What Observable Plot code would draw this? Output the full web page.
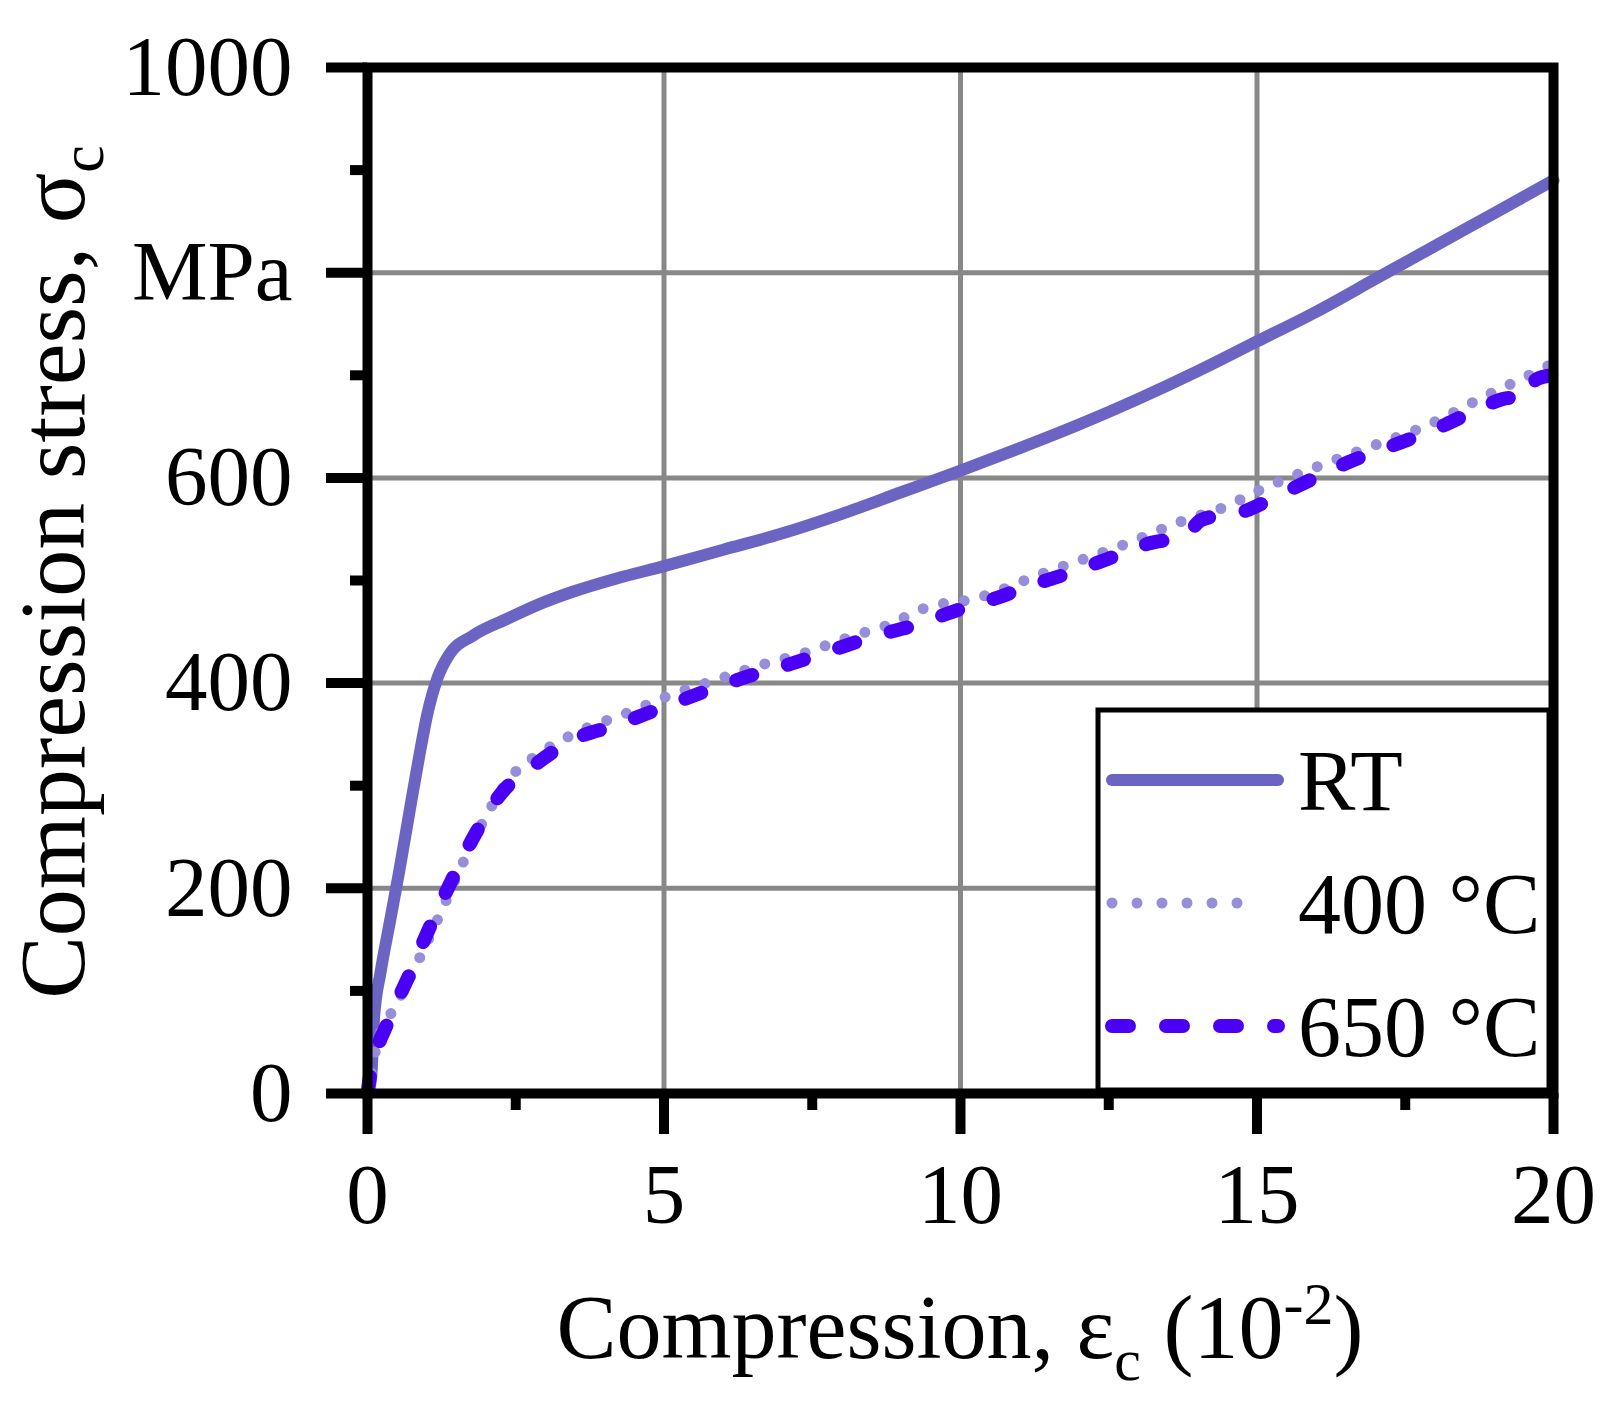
<!DOCTYPE html>
<html><head><meta charset="utf-8">
<script src="https://cdn.jsdelivr.net/npm/d3@7"></script>
<script src="https://cdn.jsdelivr.net/npm/@observablehq/plot@0.6"></script>
<style>body{margin:0;background:#fff}</style>
</head><body><div id="chart"></div>
<script>
// ---- data (compression in 10^-2, stress in MPa) ----
const seriesNames = ["RT", "400 °C", "650 °C"];
const rtX  = [0, 0.06, 0.11, 0.22, 0.37, 0.53, 0.70, 0.87, 1.01, 1.18, 1.38, 1.77, 2.33, 2.9, 3.46, 4.2, 5.0, 6.0, 7.0, 8.0, 9.0, 10.0, 11.0, 12.0, 13.0, 14.0, 15.0, 16.0, 17.0, 18.0, 19.0, 20.0];
const rtY  = [0, 14, 73, 118, 165, 215, 272, 328, 370, 405, 428, 446, 462, 477, 489, 502, 514, 530, 546, 565, 586, 607, 629, 652, 677, 704, 733, 762, 794, 826, 858, 890];
const t400X = [0, 0.14, 0.51, 0.87, 1.24, 1.57, 1.94, 2.44, 2.89, 3.46, 4.47, 5.0, 5.93, 6.6, 7.4, 8.19, 8.75, 9.44, 10.22, 11.39, 12.76, 13.79, 14.47, 15.0, 15.84, 16.8, 17.9, 18.86, 19.55, 20.0];
const t400Y = [0, 43, 89, 131, 177, 220, 264, 310, 331, 350, 373, 386, 404, 417, 430, 446, 456, 474, 482, 507, 535, 559, 572, 587, 607, 628, 652, 680, 699, 712];
const t650X = [0, 0.03, 0.08, 0.34, 0.70, 1.01, 1.38, 1.77, 2.22, 2.84, 3.51, 4.19, 4.92, 5.65, 6.44, 7.15, 7.88, 8.56, 9.27, 9.89, 10.56, 11.18, 11.87, 12.48, 13.17, 13.79, 14.06, 14.81, 15.36, 15.9, 16.53, 17.63, 18.18, 18.73, 19.27, 19.4, 19.74, 20.0];
const t650Y = [0, 13, 27, 69, 115, 157, 203, 248, 290, 321, 346, 359, 375, 391, 407, 419, 433, 446, 457, 470, 482, 495, 508, 521, 536, 544, 559, 568, 583, 598, 615, 639, 652, 667, 678, 675, 697, 700];

const xMajorTicks = [0, 5, 10, 15, 20];
const xMinorTicks = [2.5, 7.5, 12.5, 17.5];
const yMajorTicks = [0, 200, 400, 600, 800, 1000];
const yMinorTicks = [100, 300, 500, 700, 900];
const yTickLabels = ["0", "200", "400", "600", "MPa", "1000"];
const xGridValues = [5, 10, 15];
const yGridValues = [200, 400, 600, 800];

// ---- styles ----
const colors = {"RT": "#6c64c2", "400 °C": "#968ed8", "650 °C": "#4b00f6"};
const styles = {
  "RT":     {strokeWidth: 12, strokeDasharray: null, linecap: "round"},
  "400 °C": {strokeWidth: 11, strokeDasharray: "0 21", linecap: "round"},
  "650 °C": {strokeWidth: 14, strokeDasharray: "17 37", linecap: "round"}
};

const table = [];
[[rtX, rtY], [t400X, t400Y], [t650X, t650Y]].forEach(([xs, ys], i) => {
  xs.forEach((x, j) => table.push({series: seriesNames[i], x, y: ys[j]}));
});

const lineMarks = seriesNames.map(s => Plot.line(table.filter(d => d.series === s), {
  x: "x", y: "y", stroke: colors[s], strokeWidth: styles[s].strokeWidth,
  strokeDasharray: styles[s].strokeDasharray, strokeLinecap: styles[s].linecap,
  strokeLinejoin: "round", curve: "monotone-x"
}));

const FONT = "'Liberation Serif', 'Times New Roman', serif";

const plot = Plot.plot({
  width: 1609, height: 1405,
  marginLeft: 367, marginRight: 56, marginTop: 67, marginBottom: 312,
  style: {fontFamily: FONT, fontSize: "85px", color: "#000", background: "#fff", overflow: "visible"},
  x: {domain: [0, 20]},
  y: {domain: [0, 1000]},
  marks: [
    Plot.gridX(xGridValues, {stroke: "#888", strokeOpacity: 1, strokeWidth: 5}),
    Plot.gridY(yGridValues, {stroke: "#888", strokeOpacity: 1, strokeWidth: 5}),
    ...lineMarks,
    Plot.axisX(xMinorTicks, {tickSize: 17, strokeWidth: 10, tickFormat: () => "", label: null}),
    Plot.axisX(xMajorTicks, {tickSize: 41, strokeWidth: 10, tickPadding: 28, label: null, fill: "#000"}),
    Plot.axisY(yMinorTicks, {tickSize: 17, strokeWidth: 10, tickFormat: () => "", label: null}),
    Plot.axisY(yMajorTicks, {tickSize: 41, strokeWidth: 10, tickPadding: 34, label: null, fill: "#000",
      tickFormat: d => yTickLabels[yMajorTicks.indexOf(d)]}),
    Plot.frame({stroke: "#000", strokeWidth: 10})
  ]
});

const svg = d3.select(plot);

// y-axis title
const yt = svg.append("text")
  .attr("transform", "translate(84,572) rotate(-90)")
  .attr("text-anchor", "middle")
  .attr("font-family", FONT).attr("font-size", 94).attr("fill", "#000");
yt.append("tspan").text("Compression stress, σ");
yt.append("tspan").attr("font-size", 62).attr("dy", "0.3em").text("c");

// x-axis title
const xt = svg.append("text")
  .attr("x", 960).attr("y", 1358)
  .attr("text-anchor", "middle")
  .attr("font-family", FONT).attr("font-size", 90).attr("fill", "#000");
xt.append("tspan").text("Compression, ε");
xt.append("tspan").attr("font-size", 60).attr("dy", 22).text("c");
xt.append("tspan").attr("dy", -22).text(" (10");
xt.append("tspan").attr("font-size", 60).attr("dy", -34).text("-2");
xt.append("tspan").attr("dy", 34).text(")");

// legend
const lg = svg.append("g");
lg.append("rect").attr("x", 1098).attr("y", 710).attr("width", 451).attr("height", 380)
  .attr("fill", "#fff").attr("stroke", "#000").attr("stroke-width", 5);
const rowsY = [780, 903, 1026];
seriesNames.forEach((s, i) => {
  const st = styles[s];
  lg.append("line").attr("x1", 1112).attr("x2", s === "400 °C" ? 1262 : 1278)
    .attr("y1", rowsY[i]).attr("y2", rowsY[i])
    .attr("stroke", colors[s]).attr("stroke-width", st.strokeWidth)
    .attr("stroke-linecap", st.linecap)
    .attr("stroke-dasharray", s === "400 °C" ? "0 25" : st.strokeDasharray);
  lg.append("text").attr("x", 1298).attr("y", rowsY[i] + 30)
    .attr("text-anchor", "start")
    .attr("font-family", FONT).attr("font-size", 86).attr("fill", "#000").text(s);
});

document.getElementById("chart").appendChild(plot);
</script>
</body></html>
